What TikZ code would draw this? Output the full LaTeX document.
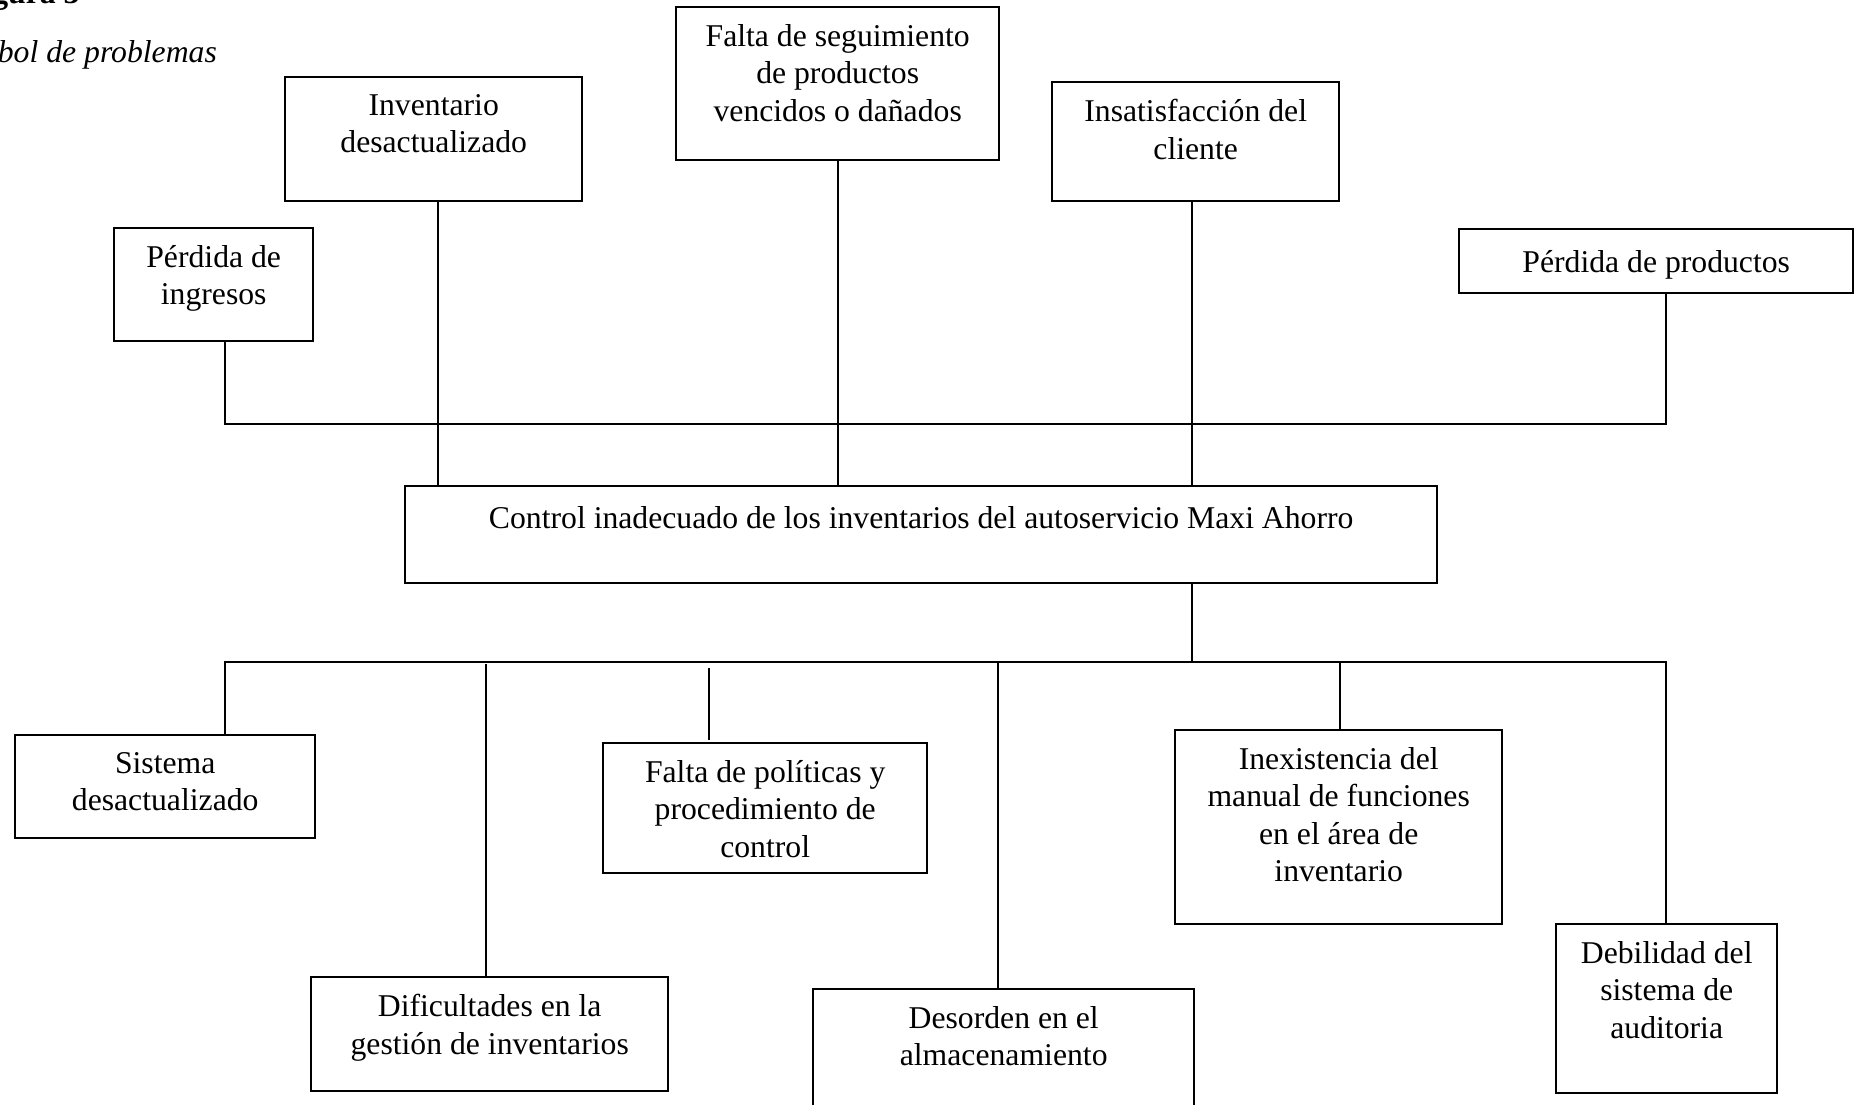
\documentclass[tikz,border=0pt]{standalone}
\usepackage{fontspec}
\setmainfont{Liberation Serif}
\newcommand{\fsz}{\fontsize{31.7}{37.5}\selectfont}
\begin{document}
\begin{tikzpicture}[x=1pt,y=-1pt,
  conn/.style={line width=2pt},
  box/.style={draw, line width=2.4pt, inner sep=0pt, anchor=north west},
  txt/.style={font=\fsz, align=center, inner sep=0pt, anchor=north, execute at begin node=\strut},
  ttl/.style={font=\fsz, inner sep=0pt, anchor=base west}]
\path[use as bounding box] (0,0) rectangle (1856,1105);
\clip (0,0) rectangle (1856,1105);

% caption (cut by the page edge, as in the reference)
\node[ttl, font=\fsz\bfseries] (fig) at (-36,4) {Figura 3};
\node[ttl, font=\fsz\itshape] (cap) at (-34,63) {Árbol de problemas};

% effect boxes
\node[box, minimum width=199pt, minimum height=113pt] (ingresos) at (113,227) {};
\node[box, minimum width=297pt, minimum height=124pt] (inventario) at (284,76) {};
\node[box, minimum width=323pt, minimum height=153pt] (seguimiento) at (675,6) {};
\node[box, minimum width=287pt, minimum height=119pt] (insatisfaccion) at (1051,81) {};
\node[box, minimum width=394pt, minimum height=64pt] (productos) at (1458,228) {};
% main problem
\node[box, minimum width=1032pt, minimum height=97pt] (main) at (404,485) {};
% cause boxes
\node[box, minimum width=300pt, minimum height=103pt] (sistema) at (14,734) {};
\node[box, minimum width=324pt, minimum height=130pt] (politicas) at (602,742) {};
\node[box, minimum width=327pt, minimum height=194pt] (inexistencia) at (1174,729) {};
\node[box, minimum width=357pt, minimum height=114pt] (dificultades) at (310,976) {};
\node[box, minimum width=381pt, minimum height=140pt] (desorden) at (812,988) {};
\node[box, minimum width=221pt, minimum height=169pt] (debilidad) at (1555,923) {};

% texts
\tikzset{tpad/.style={yshift=-18pt}}
\node[txt] (t1) at ([tpad]ingresos.north) {Pérdida de\\ingresos};
\node[txt] (t2) at ([tpad]inventario.north) {Inventario\\desactualizado};
\node[txt] (t3) at ([tpad]seguimiento.north) {Falta de seguimiento\\de productos\\vencidos o dañados};
\node[txt] (t4) at ([tpad]insatisfaccion.north) {Insatisfacción del\\cliente};
\node[txt] (t5) at ([tpad]productos.north) {Pérdida de productos};
\node[txt] (t6) at ([yshift=-17pt]main.north) {Control inadecuado de los inventarios del autoservicio Maxi Ahorro};
\node[txt] (t7) at ([tpad]sistema.north) {Sistema\\desactualizado};
\node[txt] (t8) at ([tpad]politicas.north) {Falta de políticas y\\procedimiento de\\control};
\node[txt] (t9) at ([tpad]inexistencia.north) {Inexistencia del\\manual de funciones\\en el área de\\inventario};
\node[txt] (t10) at ([tpad]dificultades.north) {Dificultades en la\\gestión de inventarios};
\node[txt] (t11) at ([tpad]desorden.north) {Desorden en el\\almacenamiento};
\node[txt] (t12) at ([tpad]debilidad.north) {Debilidad del\\sistema de\\auditoria};

% junction coordinates
\coordinate (tl) at (225,424);
\coordinate (tr) at (1666,424);
\coordinate (bl) at (225,662);
\coordinate (br) at (1666,662);
\coordinate (x1) at (438,0);
\coordinate (x2) at (838,0);
\coordinate (x3) at (1192,0);
\coordinate (y1) at (486,0);
\coordinate (y2) at (709,0);
\coordinate (y3) at (998,0);
\coordinate (y4) at (1340,0);

% effects
\draw[conn] (ingresos.south -| tl) -- (tl) -- (tr) -- (productos.south -| tr);
\draw[conn] (inventario.south -| x1) -- (main.north -| x1);
\draw[conn] (seguimiento.south -| x2) -- (main.north -| x2);
\draw[conn] (insatisfaccion.south -| x3) -- (main.north -| x3);
% causes
\draw[conn] (main.south -| x3) -- (bl -| x3);
\draw[conn] (sistema.north -| bl) -- (bl) -- (br) -- (debilidad.north -| br);
\draw[conn] ([yshift=-2pt]bl -| y1) -- (dificultades.north -| y1);
\draw[conn] ([yshift=-6pt]bl -| y2) -- ([yshift=2pt]politicas.north -| y2);
\draw[conn] (bl -| y3) -- (desorden.north -| y3);
\draw[conn] (bl -| y4) -- (inexistencia.north -| y4);
\end{tikzpicture}
\end{document}
